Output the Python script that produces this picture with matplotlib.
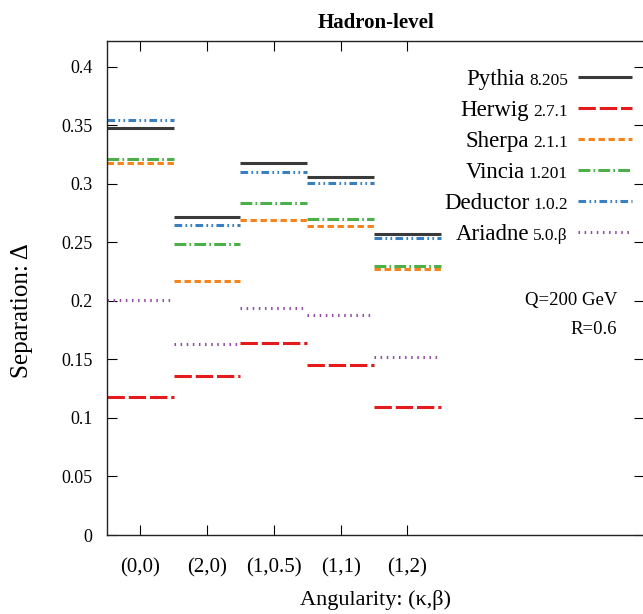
import matplotlib.pyplot as plt

# =========================
# DATA
# =========================
angularities = ["(0,0)", "(2,0)", "(1,0.5)", "(1,1)", "(1,2)"]

generators = ["Pythia", "Herwig", "Sherpa", "Vincia", "Deductor", "Ariadne"]
versions = ["8.205", "2.7.1", "2.1.1", "1.201", "1.0.2", "5.0.\u03b2"]

pythia = [0.348, 0.272, 0.318, 0.306, 0.257]
herwig = [0.118, 0.136, 0.164, 0.145, 0.109]
sherpa = [0.318, 0.217, 0.269, 0.264, 0.227]
vincia = [0.321, 0.249, 0.284, 0.270, 0.230]
deductor = [0.355, 0.265, 0.310, 0.301, 0.254]
ariadne = [0.201, 0.163, 0.194, 0.188, 0.152]

series = [pythia, herwig, sherpa, vincia, deductor, ariadne]

# =========================
# STYLES
# =========================
colors = ["#3a3a3a", "#e41a1c", "#f5841f", "#4daf4a", "#3a7fbf", "#8e4fa3"]
dashes = [
    None,
    (12.5, 2.8),
    (4.6, 2.6),
    (8.5, 2.3, 1.2, 2.3),
    (5.5, 2.4, 1.2, 2.4, 1.2, 2.4),
    (1.1, 3.3),
]

plt.rcParams["font.family"] = ["Liberation Serif", "DejaVu Serif"]
plt.rcParams["lines.scale_dashes"] = False

fig = plt.figure(figsize=(6.43, 6.14), dpi=100)
W, H = 643, 614
ax = fig.add_axes([107 / W, (H - 535) / H, (644.3 - 107) / W, (535 - 41) / H])

lw = 2.2
for vals, col, ds in zip(series, colors, dashes):
    for i, v in enumerate(vals):
        line, = ax.plot([i - 0.5, i + 0.5], [v, v], color=col, lw=lw,
                        solid_capstyle="butt", dash_capstyle="butt")
        if ds is not None:
            line.set_dashes(ds)

ax.set_xlim(-0.5, 7.55)
ax.set_ylim(0, 0.4222)

ax.set_xticks(range(len(angularities)))
ax.set_xticklabels(angularities, fontsize=15)
ax.set_yticks([0, 0.05, 0.1, 0.15, 0.2, 0.25, 0.3, 0.35, 0.4])
ax.set_yticklabels(["0", "0.05", "0.1", "0.15", "0.2", "0.25", "0.3", "0.35", "0.4"],
                   fontsize=13)
ax.tick_params(axis="x", direction="in", length=7.5, width=0.8,
               top=True, pad=17)
ax.tick_params(axis="y", direction="in", length=7.5, width=0.8,
               right=True, pad=10.5)
for s in ax.spines.values():
    s.set_linewidth(1.0)
    s.set_color("#222222")

ax.set_xlabel("Angularity: (\u03ba,\u03b2)", fontsize=16)
ax.xaxis.set_label_coords(0.5, -0.112)
ax.set_ylabel("Separation: \u0394", fontsize=18)
ax.yaxis.set_label_coords(-0.138, 0.455)
ax.set_title("Hadron-level", fontsize=15, fontweight="bold", pad=9)

# =========================
# LEGEND (manual, two font sizes)
# =========================
def ax_x(px):
    return (px - 107) / (644.3 - 107)

def ax_y(py):
    return (535 - py) / (535 - 41)

baselines = [85, 116, 147, 178, 209, 240]
for name, ver, col, ds, yb in zip(generators, versions, colors, dashes, baselines):
    vt = ax.text(ax_x(568), ax_y(yb), ver, transform=ax.transAxes,
                 ha="right", va="baseline", fontsize=12.5)
    ax.annotate(name, xy=(0, ax_y(yb)), xycoords=(vt, "axes fraction"),
                xytext=(-3, 0), textcoords="offset points",
                ha="right", va="baseline", fontsize=16.5)
    ly = ax_y(yb - 8)
    line, = ax.plot([ax_x(578), ax_x(632)], [ly, ly], transform=ax.transAxes,
                    color=col, lw=lw, clip_on=False,
                    solid_capstyle="butt", dash_capstyle="butt")
    if ds is not None:
        line.set_dashes(ds)

ax.text(ax_x(617), ax_y(305), "Q=200 GeV", transform=ax.transAxes,
        ha="right", va="baseline", fontsize=13.5)
ax.text(ax_x(617), ax_y(334), "R=0.6", transform=ax.transAxes,
        ha="right", va="baseline", fontsize=13.5)

fig.savefig("out.png", dpi=100)
